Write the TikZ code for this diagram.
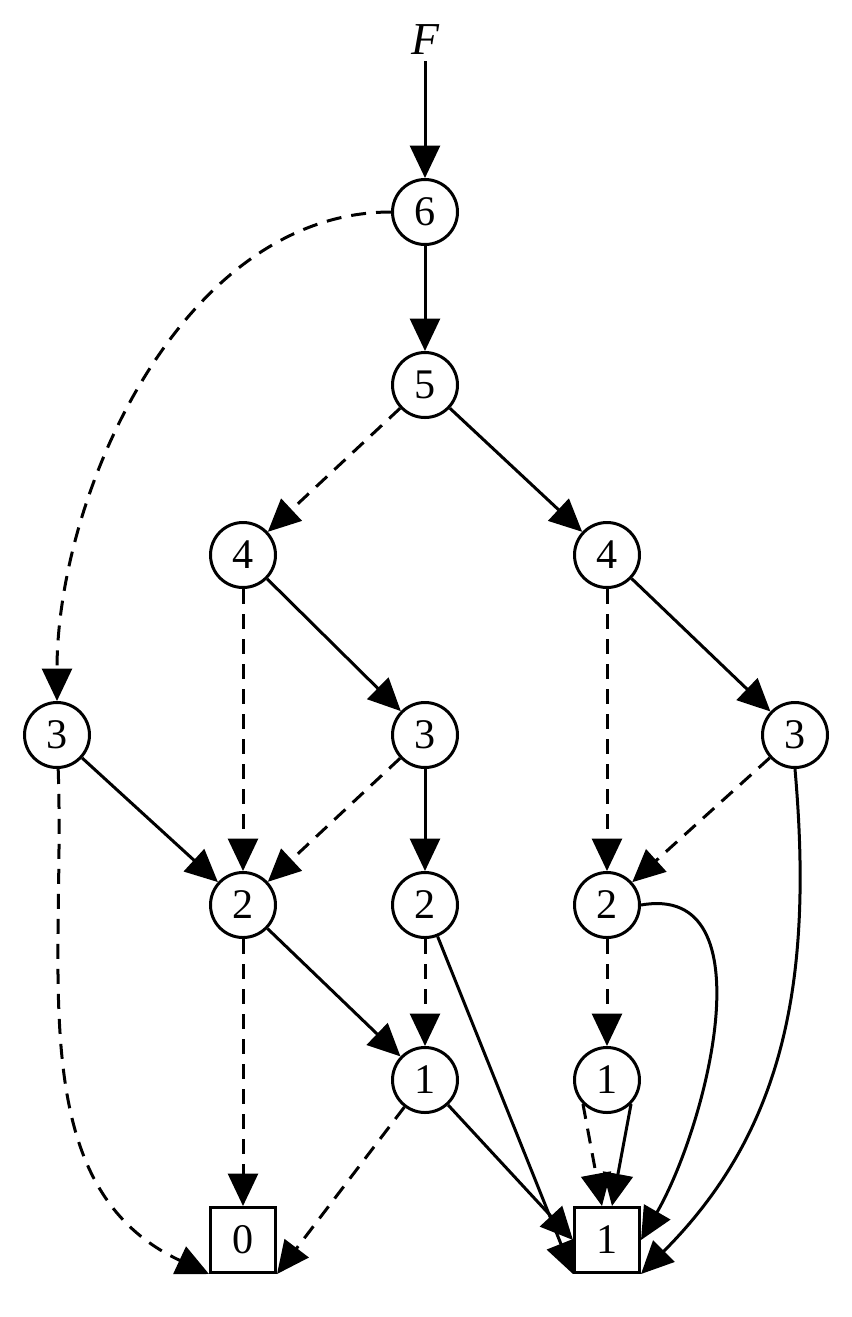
\documentclass[tikz,border=0pt]{standalone}
\usepackage{fontspec}
\setmainfont{Liberation Serif}
\usetikzlibrary{arrows.meta}
\tikzset{
  vertex/.style={draw, circle, line width=0.6mm, minimum size=1.3cm, inner sep=0pt, font=\fontsize{24}{24}\selectfont},
  leaf/.style={draw, rectangle, line width=0.6mm, minimum size=1.3cm, inner sep=0pt, font=\fontsize{24}{24}\selectfont},
  hi/.style={-{Triangle[length=0.65cm,width=0.6cm]}, line width=0.6mm},
  lo/.style={hi, dashed, dash pattern=on 0.3cm off 0.2cm},
}
\begin{document}
\begin{tikzpicture}
	\useasboundingbox (0,0) rectangle (17.02,-26.34);
	\node[font=\fontsize{26}{26}\selectfont\itshape] (f) at (8.50, -0.80) {F};
	\node[vertex] (n6) at (8.50, -4.24) {6};
	\node[vertex] (n5) at (8.50, -7.70) {5};
	\node[vertex] (n4-l) at (4.86, -11.10) {4};
	\node[vertex] (n4-r) at (12.14, -11.10) {4};
	\node[vertex] (n3-a) at (1.14, -14.70) {3};
	\node[vertex] (n3-b) at (8.50, -14.70) {3};
	\node[vertex] (n3-c) at (15.90, -14.70) {3};
	\node[vertex] (n2-a) at (4.86, -18.10) {2};
	\node[vertex] (n2-b) at (8.50, -18.10) {2};
	\node[vertex] (n2-c) at (12.14, -18.10) {2};
	\node[vertex] (n1-a) at (8.50, -21.60) {1};
	\node[vertex] (n1-b) at (12.14, -21.60) {1};
	\node[leaf] (zero) at (4.86, -24.80) {0};
	\node[leaf] (one) at (12.14, -24.80) {1};
	\draw[hi] (f) to (n6);
	\draw[hi] (n6) to (n5);
	\draw[lo] (n6) to[out=180, in=90, looseness=0.9] (n3-a);
	\draw[lo] (n5) to (n4-l);
	\draw[hi] (n5) to (n4-r);
	\draw[lo] (n4-l) to (n2-a);
	\draw[hi] (n4-l) to (n3-b);
	\draw[lo] (n4-r) to (n2-c);
	\draw[hi] (n4-r) to (n3-c);
	\draw[hi] (n3-a) to (n2-a);
	\draw[lo] (n3-a) to[out=-88, in=155] (zero.south west);
	\draw[lo] (n3-b) to (n2-a);
	\draw[hi] (n3-b) to (n2-b);
	\draw[lo] (n3-c) to (n2-c);
	\draw[hi] (n3-c.south) to[out=-85, in=45] (one.south east);
	\draw[lo] (n2-a) to (zero);
	\draw[hi] (n2-a) to (n1-a);
	\draw[lo] (n2-b) to (n1-a);
	\draw[hi] (n2-b) to (one.south west);
	\draw[lo] (n2-c) to (n1-b);
	\draw[hi] (n2-c.east) to[out=10, in=60] (one.east);
	\draw[lo] (n1-a) to (zero.south east);
	\draw[hi] (n1-a) to (one.west);
	\draw[lo] (n1-b.south west) to ([xshift=-0.1cm]one.north);
	\draw[hi] (n1-b.south east) to ([xshift=0.1cm]one.north);
\end{tikzpicture}
\end{document}
